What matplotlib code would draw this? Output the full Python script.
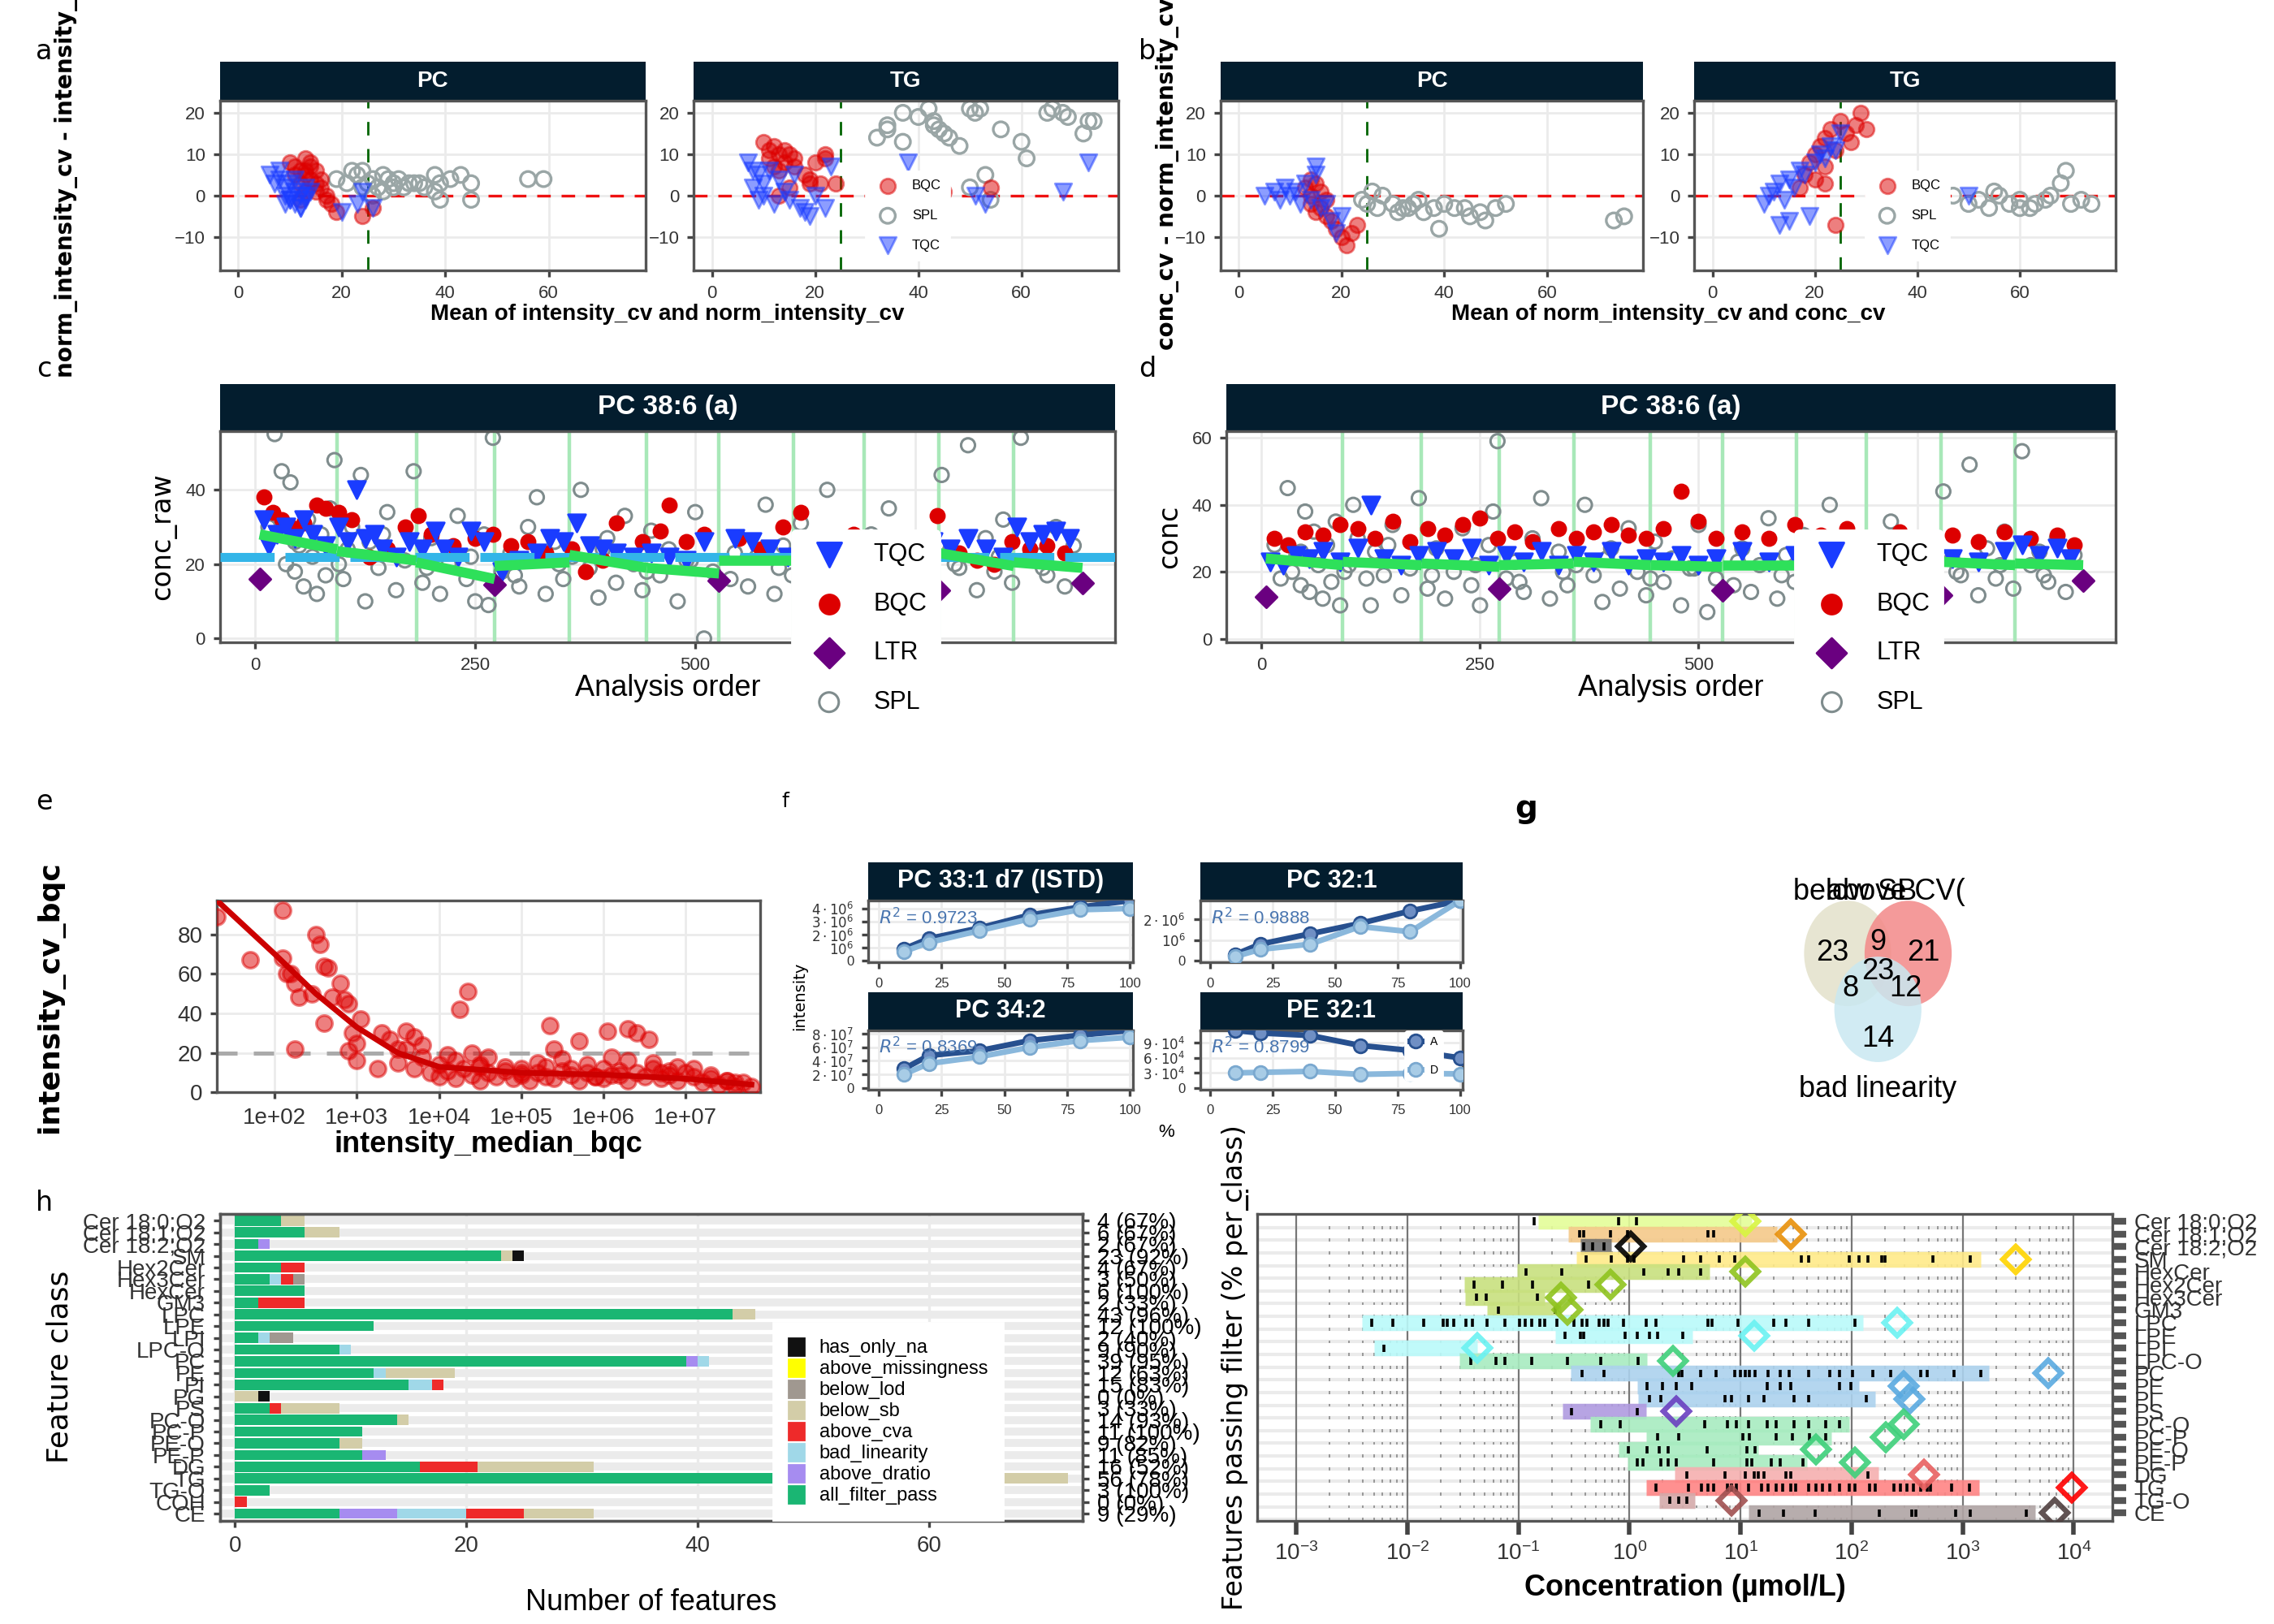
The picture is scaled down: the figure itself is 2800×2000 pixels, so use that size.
import numpy as np
import matplotlib
matplotlib.use("Agg")
import matplotlib.pyplot as plt
from matplotlib.patches import Ellipse

plt.rcParams['font.family'] = ['Liberation Sans', 'DejaVu Sans']

NAVY = '#031d2e'
RED = '#dd0000'
BLUE = '#1a3cff'
W, H = 1550.0, 1100.0

# ---------------- data: panel a / b (Bland-Altman style) ----------------
a_pc_bqc = [(10, 8), (11, 7), (12, 6), (13, 9), (13, 5), (14, 8), (14, 4), (15, 3), (15, 6), (16, 2), (12, 3),
            (11, 5), (13, 1), (16, 4), (17, 0), (18, -2), (19, -4), (24, -5), (26, -3), (14, 7), (15, 1), (12, -1),
            (17, -1), (13, 6)]
a_pc_spl = [(19, 4), (21, 3), (22, 6), (23, 5), (24, 6), (25, 3), (26, 4), (27, 2), (28, 5), (29, 4), (30, 3),
            (31, 4), (32, 2), (33, 3), (35, 3), (36, 2), (38, 5), (39, 3), (39, -1), (41, 4), (43, 5), (45, 3),
            (45, -1), (56, 4), (59, 4), (28, 1), (30, 2), (34, 3), (38, 1), (26, 0), (24, 2)]
a_pc_tqc = [(6, 5), (7, 3), (8, 4), (9, 2), (9, 0), (10, -1), (10, 3), (11, 1), (11, -2), (12, 0), (12, -3),
            (13, 2), (13, -1), (14, 1), (8, 6), (9, -2), (10, -1), (11, 4), (12, -3), (13, 0), (20, -4), (23, -2),
            (24, 1), (26, -3)]
a_tg_bqc = [(10, 13), (11, 11), (11, 9), (12, 12), (12, 7), (13, 10), (13, 6), (14, 8), (14, 11), (15, 10),
            (16, 7), (16, 9), (18, 5), (19, 4), (19, 3), (20, 8), (21, 3), (22, 9), (22, 10), (24, 3), (13, 0),
            (15, 2), (40, 1), (45, 1), (54, 2)]
a_tg_spl = [(32, 14), (34, 16), (34, 17), (37, 13), (37, 20), (40, 19), (42, 21), (43, 17), (44, 16), (45, 15),
            (46, 14), (48, 12), (50, 21), (51, 20), (52, 21), (53, 5), (54, -1), (56, 16), (60, 13), (61, 9),
            (65, 20), (66, 21), (68, 20), (69, 19), (72, 15), (73, 18), (74, 18), (43, 18), (50, 2)]
a_tg_tqc = [(7, 8), (8, 6), (8, 2), (9, 5), (9, -1), (10, 3), (10, 0), (11, 6), (12, -2), (13, 4), (14, 1),
            (15, -1), (16, 5), (17, -3), (18, -4), (19, -5), (20, 0), (22, -3), (23, 7), (38, 8), (51, 0), (53, -2),
            (68, 1), (73, 8)]
b_pc_bqc = [(13, 2), (14, 0), (14, -2), (15, 3), (15, -4), (16, 1), (16, -3), (17, -5), (18, -6), (19, -8),
            (20, -10), (21, -12), (22, -9), (23, -7), (14, 4), (17, -1)]
b_pc_tqc = [(5, 0), (7, 1), (8, -1), (9, 2), (10, 0), (11, 1), (12, -2), (13, 3), (14, -1), (15, 7), (15, 5),
            (16, -3), (17, -2), (18, -6), (19, -9), (20, -5)]
b_pc_spl = [(24, -1), (25, -2), (27, -3), (28, 0), (30, -2), (31, -4), (32, -3), (34, -2), (35, -1), (36, -4),
            (38, -3), (39, -8), (40, -2), (42, -3), (44, -3), (45, -5), (47, -4), (48, -6), (50, -3), (52, -2),
            (73, -6), (75, -5), (26, 1), (33, -3)]
b_tg_bqc = [(17, 2), (18, 5), (19, 8), (20, 10), (20, 4), (21, 12), (22, 14), (22, 7), (23, 16), (24, 11),
            (25, 18), (26, 15), (28, 17), (29, 20), (30, 16), (24, -7), (27, 13), (22, 3)]
b_tg_tqc = [(10, -2), (11, 0), (12, 1), (13, 3), (14, -1), (15, 4), (16, 2), (17, 6), (18, 5), (19, -5),
            (20, 8), (21, 10), (22, 9), (23, 12), (24, 11), (25, 15), (13, -7), (15, -6), (50, 0)]
b_tg_spl = [(44, 2), (47, 0), (50, -2), (52, -1), (54, -3), (56, 0), (58, -2), (60, -1), (62, -3), (63, -2),
            (65, -1), (66, 0), (68, 3), (70, -2), (72, -1), (74, -2), (55, 1), (60, -3), (69, 6)]

# ---------------- data: panel c / d (run order) ----------------
batch_bounds = [93, 183, 272, 357, 445, 527, 612, 692, 777, 862]
c_spl = [(15, 30), (22, 55), (30, 45), (35, 20), (40, 42), (45, 18), (50, 25), (55, 14), (60, 32), (65, 22),
         (70, 12), (75, 28), (80, 17), (85, 35), (90, 48), (100, 16), (105, 24), (110, 30), (120, 44), (125, 10),
         (130, 26), (140, 19), (150, 34), (160, 13), (170, 21), (180, 45), (190, 15), (200, 27), (210, 12),
         (220, 20), (230, 33), (240, 16), (250, 10), (260, 28), (265, 9), (270, 54), (280, 18), (290, 23),
         (300, 14), (310, 30), (320, 38), (330, 12), (340, 26), (350, 16), (360, 22), (370, 40), (380, 19),
         (390, 11), (400, 27), (410, 15), (420, 33), (430, 20), (440, 13), (450, 29), (460, 17), (470, 24),
         (480, 10), (490, 21), (500, 34), (510, 0), (520, 18), (540, 16), (550, 27), (560, 14), (570, 22),
         (580, 36), (590, 12), (600, 25), (610, 17), (620, 31), (640, 20), (650, 40), (660, 14), (670, 23),
         (680, 18), (700, 28), (710, 12), (720, 35), (740, 21), (760, 16), (780, 44), (790, 24), (800, 19),
         (810, 52), (820, 13), (830, 27), (840, 18), (850, 32), (860, 15), (870, 54), (880, 22), (890, 26),
         (900, 17), (910, 30), (920, 14), (930, 25), (45, 26), (95, 20), (145, 28), (195, 19), (245, 22),
         (295, 17), (345, 20), (395, 24), (445, 18), (495, 21), (545, 23), (595, 19), (645, 22), (695, 18),
         (745, 24), (795, 20), (845, 22), (895, 19)]
c_tqc = [(10, 32), (15, 25), (25, 28), (35, 30), (45, 27), (55, 32), (65, 28), (80, 25), (95, 30), (105, 26),
         (115, 40), (125, 27), (135, 28), (145, 24), (160, 22), (175, 26), (190, 24), (205, 29), (215, 24),
         (230, 22), (245, 29), (260, 26), (280, 18), (300, 21), (320, 23), (335, 27), (350, 26), (365, 31),
         (380, 25), (395, 24), (410, 23), (430, 22), (450, 23), (470, 22), (490, 21), (510, 26), (545, 27),
         (565, 26), (585, 24), (605, 22), (625, 26), (650, 24), (670, 23), (700, 22), (730, 23), (750, 22),
         (770, 26), (790, 24), (810, 27), (830, 24), (850, 22), (865, 30), (880, 26), (895, 28), (910, 29),
         (925, 27)]
c_bqc = [(10, 38), (20, 34), (30, 32), (40, 30), (55, 31), (70, 36), (80, 35), (95, 34), (110, 32), (130, 22),
         (150, 24), (170, 30), (185, 33), (200, 28), (225, 25), (250, 27), (270, 28), (290, 25), (310, 26),
         (330, 23), (360, 24), (375, 18), (395, 21), (410, 31), (440, 26), (460, 29), (470, 36), (490, 26),
         (510, 28), (550, 27), (575, 24), (600, 30), (620, 34), (650, 26), (680, 28), (700, 25), (730, 22),
         (760, 24), (775, 33), (800, 23), (820, 21), (840, 20), (860, 26), (880, 24), (900, 25), (920, 23)]
c_ltr = [(5, 16), (272, 14.5), (527, 15.5), (777, 13), (940, 15)]
c_trend = [(5, 93, 28, 24), (93, 183, 23.5, 21), (183, 272, 20.5, 16), (272, 357, 19.5, 20.5),
           (357, 445, 22.5, 19), (445, 527, 19, 17.5), (527, 612, 21, 21), (612, 692, 21, 20),
           (692, 777, 20, 19), (777, 862, 23, 19.5), (862, 940, 20.5, 19)]
c_target = 22

d_spl = [(15, 28), (22, 18), (30, 45), (35, 20), (40, 25), (45, 16), (50, 38), (55, 14), (60, 32), (65, 22),
         (70, 12), (75, 28), (80, 17), (85, 35), (90, 10), (100, 22), (105, 40), (110, 30), (120, 18), (125, 10),
         (130, 26), (140, 19), (150, 34), (160, 13), (170, 21), (180, 42), (190, 15), (200, 27), (210, 12),
         (220, 20), (230, 33), (240, 16), (250, 10), (260, 28), (265, 38), (270, 59), (280, 18), (290, 23),
         (300, 14), (310, 30), (320, 42), (330, 12), (340, 26), (350, 16), (360, 22), (370, 40), (380, 19),
         (390, 11), (400, 27), (410, 15), (420, 33), (430, 20), (440, 13), (450, 29), (460, 17), (470, 24),
         (480, 10), (490, 21), (500, 34), (510, 8), (520, 18), (540, 16), (550, 27), (560, 14), (570, 22),
         (580, 36), (590, 12), (600, 25), (610, 17), (620, 31), (640, 20), (650, 40), (660, 14), (670, 23),
         (680, 18), (700, 28), (710, 12), (720, 35), (740, 21), (760, 16), (780, 44), (790, 24), (800, 19),
         (810, 52), (820, 13), (830, 27), (840, 18), (850, 32), (860, 15), (870, 56), (880, 22), (890, 26),
         (900, 17), (910, 30), (920, 14), (930, 25), (45, 26), (95, 20), (145, 28), (195, 19), (245, 22),
         (295, 17), (345, 20), (395, 24), (445, 18), (495, 21), (545, 23), (595, 19), (645, 22), (695, 18),
         (745, 24), (795, 20), (845, 22), (895, 19)]
d_tqc = [(10, 23), (25, 22), (40, 25), (55, 24), (70, 26), (90, 23), (110, 27), (125, 40), (140, 24), (160, 22),
         (180, 25), (200, 26), (220, 24), (240, 27), (260, 22), (280, 25), (300, 23), (320, 26), (340, 22),
         (360, 25), (380, 23), (400, 26), (420, 22), (440, 24), (460, 23), (480, 25), (500, 22), (520, 24),
         (550, 26), (580, 23), (610, 25), (640, 22), (670, 24), (700, 23), (730, 25), (760, 22), (790, 24),
         (820, 23), (850, 26), (870, 28), (890, 25), (910, 27), (925, 24)]
d_bqc = [(15, 30), (30, 28), (50, 32), (70, 31), (90, 34), (110, 33), (130, 30), (150, 35), (170, 29), (190, 33),
         (210, 31), (230, 34), (250, 36), (270, 30), (290, 32), (310, 29), (340, 33), (360, 30), (380, 32),
         (400, 34), (420, 31), (440, 30), (460, 33), (480, 44), (500, 35), (520, 30), (550, 32), (580, 30),
         (610, 34), (640, 31), (670, 33), (700, 29), (730, 32), (760, 30), (790, 31), (820, 29), (850, 32),
         (880, 30), (910, 31), (930, 28)]
d_ltr = [(5, 12.5), (272, 15), (527, 14.5), (777, 13), (940, 17.5)]
d_trend = [(5, 93, 24, 22), (93, 183, 23, 22), (183, 272, 22.5, 21.5), (272, 357, 22, 22.5),
           (357, 445, 23, 22), (445, 527, 22, 21.5), (527, 612, 22, 22), (612, 692, 22.5, 22),
           (692, 777, 22, 22), (777, 862, 23, 22), (862, 940, 22.5, 22)]

# ---------------- data: panel e ----------------
e_log_x = [3.5, 3.6, 3.7, 3.8, 3.9, 4.0, 4.0, 4.1, 4.2, 4.2, 4.3, 4.4, 4.5, 4.5, 4.6, 4.7, 4.8, 4.9, 5.0, 5.0,
           5.1, 5.2, 5.3, 5.3, 5.4, 5.5, 5.6, 5.7, 5.8, 5.9, 6.0, 6.0, 6.1, 6.2, 6.3, 6.4, 6.5, 6.6, 6.7, 6.8,
           6.9, 7.0, 7.1, 7.2, 7.3, 7.4, 7.5, 7.6, 7.7, 7.8, 4.1, 4.6, 5.2, 5.8, 6.3, 6.9, 7.3, 3.8, 4.4, 5.5,
           6.6, 7.1, 1.3, 1.7, 2.1, 2.1, 2.15, 2.25, 2.3, 2.45, 2.5, 2.55, 2.6, 2.65, 2.7, 2.8, 2.85, 2.9, 2.95,
           3.0, 3.05, 2.25, 2.6, 2.9, 3.0, 3.25, 3.3, 3.4, 3.5, 3.6, 4.25, 4.35, 5.35, 5.4, 5.7, 6.05, 6.3, 6.4,
           6.55, 6.1, 2.2, 3.7, 4.5, 5.0, 5.6, 6.2, 6.8, 7.5, 4.8, 5.9, 6.7, 7.6]
e_cv = [15, 22, 12, 18, 10, 14, 8, 11, 16, 7, 12, 9, 13, 6, 10, 8, 11, 7, 12, 9, 6, 10, 8, 13, 7, 11, 9, 6, 10, 8,
        12, 7, 9, 11, 6, 10, 8, 12, 7, 9, 6, 10, 8, 5, 7, 4, 6, 3, 5, 3, 19, 18, 15, 14, 16, 13, 9, 24, 20, 17,
        15, 12, 89, 67, 92, 68, 60, 55, 48, 50, 80, 75, 64, 63, 48, 55, 47, 45, 30, 25, 37, 22, 35, 21, 16, 12,
        30, 27, 22, 31, 42, 51, 34, 22, 26, 31, 32, 30, 27, 18, 60, 28, 14, 10, 12, 9, 11, 6, 13, 8, 10, 5]
e_fit_log_x = [1.3, 2.0, 2.5, 3.0, 3.5, 4.0, 5.0, 6.0, 7.0, 7.8]
e_fit_cv = [97, 70, 50, 33, 20, 13, 10, 9, 7, 4]

# ---------------- data: panel f (response curves) ----------------
f_pct = [10, 20, 40, 60, 80, 100]
f_titles = ['PC 33:1 d7 (ISTD)', 'PC 32:1', 'PC 34:2', 'PE 32:1']
f_A = [[0.9e6, 1.7e6, 2.5e6, 3.5e6, 4.1e6, 4.6e6],
       [0.3e6, 0.8e6, 1.3e6, 1.8e6, 2.4e6, 2.9e6],
       [2.8e7, 4.8e7, 5.5e7, 7.0e7, 7.8e7, 8.5e7],
       [11.5e4, 11e4, 10.5e4, 8.5e4, 7.5e4, 6e4]]
f_D = [[0.7e6, 1.4e6, 2.3e6, 3.2e6, 3.9e6, 4.0e6],
       [0.2e6, 0.55e6, 0.8e6, 1.65e6, 1.4e6, 2.9e6],
       [2.0e7, 3.6e7, 4.6e7, 6.0e7, 7.0e7, 7.5e7],
       [3.0e4, 3.1e4, 3.3e4, 2.7e4, 2.9e4, 2.8e4]]
f_r2 = ['0.9723', '0.9888', '0.8369', '0.8799']
f_yticks = [[0, 1e6, 2e6, 3e6, 4e6], [0, 1e6, 2e6], [0, 2e7, 4e7, 6e7, 8e7], [0, 3e4, 6e4, 9e4]]
f_yticklabels = [['0', r'$10^6$', r'$2\cdot10^6$', r'$3\cdot10^6$', r'$4\cdot10^6$'],
                 ['0', r'$10^6$', r'$2\cdot10^6$'],
                 ['0', r'$2\cdot10^7$', r'$4\cdot10^7$', r'$6\cdot10^7$', r'$8\cdot10^7$'],
                 ['0', r'$3\cdot10^4$', r'$6\cdot10^4$', r'$9\cdot10^4$']]

# ---------------- data: panel g (venn) ----------------
venn_sets = ['below SB', 'above CV', 'bad linearity']
venn_counts = {'A': 23, 'B': 21, 'C': 14, 'AB': 9, 'AC': 8, 'BC': 12, 'ABC': 23}

# ---------------- data: panel h ----------------
h_classes = ['Cer 18:0;O2', 'Cer 18:1;O2', 'Cer 18:2;O2', 'SM', 'Hex2Cer', 'Hex3Cer', 'HexCer', 'GM3', 'LPC',
             'LPE', 'LPI', 'LPC-O', 'PC', 'PE', 'PI', 'PG', 'PS', 'PC-O', 'PC-P', 'PE-O', 'PE-P', 'DG', 'TG',
             'TG-O', 'COH', 'CE']
h_filters = ['all_filter_pass', 'above_dratio', 'bad_linearity', 'above_cva', 'below_sb', 'below_lod',
             'above_missingness', 'has_only_na']
h_colors = {'has_only_na': '#111111', 'above_missingness': '#ffff00', 'below_lod': '#a09890',
            'below_sb': '#d3cda8', 'above_cva': '#ee2a2a', 'bad_linearity': '#a0d8e8',
            'above_dratio': '#a68cf0', 'all_filter_pass': '#1ab673'}
h_counts = {
    'all_filter_pass': [4, 6, 2, 23, 4, 3, 6, 2, 43, 12, 2, 9, 39, 12, 15, 0, 3, 14, 11, 9, 11, 16, 56, 3, 0, 9],
    'above_dratio':    [0, 0, 1, 0, 0, 0, 0, 0, 0, 0, 0, 0, 1, 0, 0, 0, 0, 0, 0, 0, 2, 0, 0, 0, 0, 5],
    'bad_linearity':   [0, 0, 0, 0, 0, 1, 0, 0, 0, 0, 1, 1, 1, 1, 2, 0, 0, 0, 0, 0, 0, 0, 0, 0, 0, 6],
    'above_cva':       [0, 0, 0, 0, 2, 1, 0, 4, 0, 0, 0, 0, 0, 0, 1, 0, 1, 0, 0, 0, 0, 5, 0, 0, 1, 5],
    'below_sb':        [2, 3, 0, 1, 0, 0, 0, 0, 2, 0, 0, 0, 0, 6, 0, 2, 5, 1, 0, 2, 0, 10, 16, 0, 0, 6],
    'below_lod':       [0, 0, 0, 0, 0, 1, 0, 0, 0, 0, 2, 0, 0, 0, 0, 0, 0, 0, 0, 0, 0, 0, 0, 0, 0, 0],
    'above_missingness': [0] * 26,
    'has_only_na':     [0, 0, 0, 1, 0, 0, 0, 0, 0, 0, 0, 0, 0, 0, 0, 1, 0, 0, 0, 0, 0, 0, 0, 0, 0, 0],
}
h_right = ['4 (67%)', '6 (67%)', '2 (67%)', '23 (92%)', '4 (67%)', '3 (50%)', '6 (100%)', '2 (33%)',
           '43 (96%)', '12 (100%)', '2 (40%)', '9 (90%)', '39 (95%)', '12 (63%)', '15 (83%)', '0 (0%)',
           '3 (33%)', '14 (93%)', '11 (100%)', '9 (82%)', '11 (85%)', '16 (52%)', '56 (78%)', '3 (100%)',
           '0 (0%)', '9 (29%)']

# ---------------- data: panel i (log10 concentrations) ----------------
i_classes = ['Cer 18:0;O2', 'Cer 18:1;O2', 'Cer 18:2;O2', 'SM', 'HexCer', 'Hex2Cer', 'Hex3Cer', 'GM3', 'LPC',
             'LPE', 'LPI', 'LPC-O', 'PC', 'PE', 'PI', 'PS', 'PC-O', 'PC-P', 'PE-O', 'PE-P', 'DG', 'TG', 'TG-O', 'CE']
i_min = [-0.82, -0.55, -0.44, -0.48, -1.01, -1.49, -1.48, -1.28, -2.41, -0.67, -2.30, -1.53, -0.53, 0.07, 0.08,
         -0.60, -0.35, 0.15, -0.10, -0.02, 0.41, 0.15, 0.27, 1.07]
i_max = [1.10, 1.33, -0.16, 3.16, 0.72, -0.26, -0.76, -0.62, 2.10, 0.57, -1.37, 0.16, 3.24, 2.07, 2.21, 0.15,
         1.98, 1.82, 1.16, 1.60, 2.24, 3.15, 0.59, 3.65]
i_diamond = [1.04, 1.45, 0.01, 3.48, 1.04, -0.17, -0.62, -0.56, 2.41, 1.12, -1.37, 0.39, 3.77, 2.47, 2.52, 0.42,
             2.47, 2.31, 1.68, 2.03, 2.65, 3.98, 0.92, 3.83]
i_marker_col = ['#d8f540', '#e8900a', '#000000', '#ffd400', '#8fc31f', '#8fc31f', '#8fc31f', '#8fc31f',
                '#6af2f2', '#6af2f2', '#6af2f2', '#3ed07a', '#5aaae0', '#5aaae0', '#5aaae0', '#6a3fc0',
                '#3ed07a', '#3ed07a', '#3ed07a', '#3ed07a', '#e86060', '#ff0000', '#a05050', '#504040']
i_bar_col = ['#e4fd98', '#f4c98a', '#707070', '#ffea88', '#c8e07e', '#c8e07e', '#c8e07e', '#c8e07e',
             '#bafafa', '#bafafa', '#bafafa', '#a8ecc0', '#acd2ee', '#acd2ee', '#acd2ee', '#b09ae0',
             '#a8ecc0', '#a8ecc0', '#a8ecc0', '#a8ecc0', '#f5b0b0', '#ff8484', '#d4aaaa', '#b0a4a4']
i_ticks = [
    [-0.86, -0.10, 0.06],
    [-0.45, -0.41, -0.17, -0.02, 0.71, 0.76],
    [-0.41, -0.33, -0.23],
    [-0.39, -0.16, -0.02, 0.04, 0.49, 0.64, 0.81, 0.95, 1.55, 1.61, 1.98, 2.07, 2.15, 2.27, 2.30, 2.73, 3.07],
    [-0.93, -0.61, 0.13, 0.35, 0.44, 0.64],
    [-1.40, -1.14, -0.87, -0.37],
    [-1.38, -1.29, -0.83],
    [-1.18, -0.67],
    [-2.32, -2.13, -1.85, -1.68, -1.64, -1.58, -1.47, -1.41, -1.28, -1.12, -0.99, -0.94, -0.88, -0.81, -0.76,
     -0.65, -0.50, -0.43, -0.38, -0.27, -0.23, -0.19, -0.05, 0.15, 0.24, 0.71, 0.74, 0.98, 1.30, 1.41, 1.61, 2.03],
    [-0.58, -0.44, -0.41, -0.04, 0.07, 0.18, 0.25, 0.48],
    [-2.21],
    [-1.43, -1.20, -1.12, -0.88, -0.56, -0.26, 0.08],
    [-0.43, -0.23, 0.44, 0.47, 0.64, 0.78, 0.95, 1.0, 1.04, 1.08, 1.13, 1.25, 1.36, 1.44, 1.61, 1.80, 1.89, 2.01,
     2.19, 2.35, 2.62, 2.68, 2.92, 3.16],
    [0.16, 0.30, 0.42, 0.56, 1.24, 1.36, 1.45, 1.89, 1.99],
    [0.18, 0.28, 0.86, 0.92, 1.07, 1.21, 1.48, 1.61, 2.13],
    [-0.52, 0.07],
    [-0.26, -0.08, 0.68, 0.88, 0.96, 1.07, 1.24, 1.32, 1.48, 1.61, 1.77, 1.89],
    [0.25, 0.44, 1.02, 1.08, 1.32, 1.47, 1.62, 1.77],
    [-0.01, 0.16, 0.27, 0.35, 0.70, 1.06, 1.13],
    [0.07, 0.12, 0.28, 0.35, 0.42, 0.76, 1.06, 1.10, 1.28, 1.36, 1.56],
    [0.52, 0.86, 1.04, 1.12, 1.16, 1.21, 1.41, 1.45, 2.15],
    [0.24, 0.53, 0.65, 0.71, 0.76, 0.88, 0.92, 0.96, 1.07, 1.19, 1.25, 1.32, 1.38, 1.45, 1.50, 1.61, 1.68, 1.74,
     1.80, 1.89, 1.98, 2.03, 2.16, 2.21, 2.38, 2.44, 2.50, 2.56, 2.62, 2.68, 2.71, 2.90, 3.06],
    [0.36, 0.44, 0.52],
    [1.17, 1.39, 1.67, 2.25, 2.54, 2.58, 2.94, 3.07, 3.57],
]


# ---------------- helpers ----------------
def rect(x0, y0, x1, y1):
    return [x0 / W, 1 - y1 / H, (x1 - x0) / W, (y1 - y0) / H]


def style(ax, fs=8):
    ax.set_facecolor('white')
    ax.grid(True, color='#ebebeb', lw=1.0)
    ax.set_axisbelow(True)
    for s in ax.spines.values():
        s.set_color('#555555')
        s.set_linewidth(1.2)
    ax.tick_params(colors='#333333', labelsize=fs, length=3, width=1.2, color='#444444')


def facet(x0, y0, x1, y1, title, strip_h=26, fs=11):
    sax = fig.add_axes(rect(x0, y0 - strip_h, x1, y0))
    sax.set_facecolor(NAVY)
    sax.set_xticks([])
    sax.set_yticks([])
    for s in sax.spines.values():
        s.set_visible(False)
    sax.text(0.5, 0.5, title, color='white', fontsize=fs, fontweight='bold', ha='center', va='center',
             transform=sax.transAxes)
    ax = fig.add_axes(rect(x0, y0, x1, y1))
    style(ax)
    return ax


def xy(pairs):
    return [p[0] for p in pairs], [p[1] for p in pairs]


fig = plt.figure(figsize=(14, 10), dpi=200)
fig.patch.set_facecolor('white')

# ---------------- panels a and b ----------------
ab = [
    ((150, 440), 'PC', a_pc_bqc, a_pc_spl, a_pc_tqc, False),
    ((473, 762), 'TG', a_tg_bqc, a_tg_spl, a_tg_tqc, True),
    ((832, 1120), 'PC', b_pc_bqc, b_pc_spl, b_pc_tqc, False),
    ((1155, 1442), 'TG', b_tg_bqc, b_tg_spl, b_tg_tqc, True),
]
for (x0, x1), title, bqc, spl, tqc, leg in ab:
    ax = facet(x0, 68, x1, 183, title, strip_h=26, fs=10)
    ax.axhline(0, color='#ee1111', ls=(0, (5, 4)), lw=1.2, zorder=1)
    ax.axvline(25, color='#006400', ls=(0, (6, 6)), lw=1.0, zorder=1)
    hb = ax.scatter(*xy(bqc), s=45, c=RED, alpha=0.5, edgecolors=RED, lw=1, label='BQC', zorder=3)
    hs = ax.scatter(*xy(spl), s=45, facecolors='none', edgecolors='#9aa6a6', lw=1.2, label='SPL', zorder=2)
    ht = ax.scatter(*xy(tqc), s=55, marker='v', c=BLUE, alpha=0.5, edgecolors=BLUE, lw=1, label='TQC', zorder=3)
    ax.set_xlim(-3.5, 78.7)
    ax.set_ylim(-18, 23)
    ax.set_xticks([0, 20, 40, 60])
    ax.set_yticks([-10, 0, 10, 20])
    if leg:
        lg = ax.legend(handles=[hb, hs, ht], loc='upper left', bbox_to_anchor=(0.39, 0.62), fontsize=6,
                       frameon=True, framealpha=1, edgecolor='white', labelspacing=1.3, handletextpad=0.8,
                       borderpad=0.6)
        lg.set_zorder(10)

fig.text(455 / W, 1 - 213 / H, 'Mean of intensity_cv and norm_intensity_cv', ha='center', va='center',
         fontsize=10, fontweight='bold')
fig.text(1137 / W, 1 - 213 / H, 'Mean of norm_intensity_cv and conc_cv', ha='center', va='center',
         fontsize=10, fontweight='bold')
fig.text(45 / W, 1 - 118 / H, 'norm_intensity_cv - intensity_cv', rotation=90, ha='center', va='center',
         fontsize=10, fontweight='bold', family='DejaVu Sans')
fig.text(796 / W, 1 - 118 / H, 'conc_cv - norm_intensity_cv', rotation=90, ha='center', va='center',
         fontsize=10, fontweight='bold', family='DejaVu Sans')

# ---------------- panels c and d ----------------
cd = [
    ((150, 760), c_spl, c_tqc, c_bqc, c_ltr, c_trend, 'conc_raw', (-1, 55.8), [0, 20, 40], True),
    ((836, 1442), d_spl, d_tqc, d_bqc, d_ltr, d_trend, 'conc', (-1, 62), [0, 20, 40, 60], False),
]
for (x0, x1), spl, tqc, bqc, ltr, trend, ylab, ylim, yt, target in cd:
    ax = facet(x0, 292, x1, 435, 'PC 38:6 (a)', strip_h=32, fs=12)
    for b in batch_bounds:
        ax.axvline(b, color='#a8e8b8', lw=1.6, zorder=1)
    if target:
        ax.axhline(c_target, color='#33b5e8', lw=4, ls=(0, (6, 1.2)), zorder=4)
    hs = ax.scatter(*xy(spl), s=38, facecolors='none', edgecolors='#7f8c8d', lw=1.1, zorder=2, label='SPL')
    hb = ax.scatter(*xy(bqc), s=38, c='#dd0000', zorder=3, label='BQC')
    ht = ax.scatter(*xy(tqc), s=60, marker='v', c=BLUE, zorder=3, label='TQC')
    hl = ax.scatter(*xy(ltr), s=45, marker='D', c='#6a0080', zorder=3, label='LTR')
    for xs, xe, ys, ye in trend:
        ax.plot([xs, xe], [ys, ye], color='#2ee05a', lw=4.5, zorder=5, solid_capstyle='butt')
    ax.set_xlim(-40, 977)
    ax.set_ylim(*ylim)
    ax.set_xticks([0, 250, 500, 750])
    ax.set_yticks(yt)
    ax.set_ylabel(ylab, fontsize=12, family='DejaVu Sans')
    ax.set_xlabel('Analysis order', fontsize=13, labelpad=0)
    lg = ax.legend(handles=[ht, hb, hl, hs], loc='upper left', bbox_to_anchor=(0.625, 0.59), fontsize=11,
                   frameon=True, framealpha=1, edgecolor='white', markerscale=1.4, labelspacing=1.0,
                   borderpad=0.5)
    lg.set_zorder(10)

# ---------------- panel e ----------------
ax = fig.add_axes(rect(148, 610, 518, 740))
style(ax, fs=10)
ax.scatter(10 ** np.array(e_log_x), e_cv, s=50, c='#dd0000', alpha=0.5, edgecolors='#dd0000', lw=1.2, zorder=3)
ax.plot(10 ** np.array(e_fit_log_x), e_fit_cv, color='#cc0000', lw=2.5, zorder=4)
ax.axhline(20, color='#aaaaaa', ls=(0, (5, 4)), lw=1.8, zorder=2)
ax.set_xscale('log')
ax.set_xlim(20, 8e7)
ax.set_ylim(0, 97)
ax.set_xticks([1e2, 1e3, 1e4, 1e5, 1e6, 1e7])
ax.set_xticklabels(['1e+02', '1e+03', '1e+04', '1e+05', '1e+06', '1e+07'])
ax.minorticks_off()
ax.set_yticks([0, 20, 40, 60, 80])
ax.set_xlabel('intensity_median_bqc', fontsize=13, fontweight='bold', labelpad=1)
ax.set_ylabel('intensity_cv_bqc', fontsize=13, fontweight='bold', family='DejaVu Sans', labelpad=50)

# ---------------- panel f ----------------
f_rects = [(592, 610, 772, 652), (818, 610, 997, 652), (592, 698, 772, 738), (818, 698, 997, 738)]
for k, (x0, y0, x1, y1) in enumerate(f_rects):
    ax = facet(x0, y0, x1, y1, f_titles[k], strip_h=26, fs=11)
    ax.tick_params(labelsize=6)
    la, = ax.plot(f_pct, f_A[k], color='#27508f', lw=2.5, marker='o', ms=6, mfc='#6f8fc4', mec='#27508f',
                  label='A', zorder=3)
    ld, = ax.plot(f_pct, f_D[k], color='#8ab8dc', lw=2.5, marker='o', ms=6, mfc='#a8cce6', mec='#7aa8cf',
                  label='D', zorder=3)
    ax.set_xlim(-4, 101)
    top = max(max(f_A[k]), max(f_D[k]))
    ax.set_ylim(-top * 0.03, top)
    ax.set_xticks([0, 25, 50, 75, 100])
    ax.set_yticks(f_yticks[k])
    ax.set_yticklabels(f_yticklabels[k])
    ax.text(0.04, 0.62, r'$R^2$ = ' + f_r2[k], transform=ax.transAxes, fontsize=8, color='#4a76b0', zorder=5)
    if k == 3:
        lg = ax.legend(handles=[la, ld], loc='upper left', bbox_to_anchor=(0.76, 1.08), fontsize=5,
                       frameon=True, framealpha=1, edgecolor='white', handlelength=1.0, labelspacing=1.5)
        lg.set_zorder(10)
fig.text(795 / W, 1 - 770 / H, '%', ha='center', fontsize=8)
fig.text(545 / W, 1 - 675 / H, 'intensity', rotation=90, ha='center', va='center', fontsize=7,
         family='DejaVu Sans')

# ---------------- panel g (venn) ----------------
ax = fig.add_axes(rect(1205, 600, 1355, 745))
ax.set_xlim(-1.2, 1.2)
ax.set_ylim(-1.25, 1.05)
ax.set_aspect('equal')
ax.axis('off')
centres = [(-0.33, 0.33), (0.33, 0.33), (0.0, -0.28)]
cols = ['#e3e1ca', '#f38888', '#c9e8f1']
for (cx, cy), col in zip(centres, cols):
    ax.add_patch(Ellipse((cx, cy), 0.95, 1.15, facecolor=col, edgecolor='none', alpha=0.85))
v_pos = {'A': (-0.5, 0.34), 'B': (0.5, 0.34), 'C': (0.0, -0.6), 'AB': (0.0, 0.45), 'AC': (-0.3, -0.05),
         'BC': (0.3, -0.05), 'ABC': (0.0, 0.13)}
for key, (tx, ty) in v_pos.items():
    ax.text(tx, ty, str(venn_counts[key]), ha='center', va='center', fontsize=13)
ax.text(-0.25, 1.0, venn_sets[0], ha='center', va='center', fontsize=13, clip_on=False)
ax.text(0.2, 1.0, venn_sets[1] + '(', ha='center', va='center', fontsize=13, clip_on=False)
ax.text(0.0, -1.15, venn_sets[2], ha='center', va='center', fontsize=13, clip_on=False)

# ---------------- panel h ----------------
ax = fig.add_axes(rect(150, 822, 738, 1030))
style(ax, fs=10)
ax.grid(False)
ypos = np.arange(len(h_classes))
for y in ypos:
    ax.axhline(y, color='#ebebeb', lw=3.5, zorder=0)
for xg in [0, 20, 40, 60]:
    ax.axvline(xg, color='#ebebeb', lw=1.2, zorder=0)
left = np.zeros(len(h_classes))
for f in h_filters:
    vals = np.array(h_counts[f], dtype=float)
    ax.barh(ypos, vals, left=left, height=0.88, color=h_colors[f], zorder=2, label=f)
    left += vals
ax.set_ylim(len(h_classes) - 0.4, -0.6)
ax.set_xlim(-1.3, 73.3)
ax.set_xticks([0, 20, 40, 60])
ax.set_yticks(ypos)
ax.set_yticklabels(h_classes, fontsize=10)
ax.set_xlabel('Number of features', fontsize=13, labelpad=14)
ax.set_ylabel('Feature class', fontsize=13, family='DejaVu Sans')
ax2 = ax.twinx()
ax2.set_ylim(ax.get_ylim())
ax2.set_yticks(ypos)
ax2.set_yticklabels(h_right, fontsize=10)
ax2.tick_params(length=3, width=1.2, color='#444444')
for s in ax2.spines.values():
    s.set_color('#555555')
    s.set_linewidth(1.2)
order = ['has_only_na', 'above_missingness', 'below_lod', 'below_sb', 'above_cva', 'bad_linearity',
         'above_dratio', 'all_filter_pass']
handles = [plt.Rectangle((0, 0), 1, 1, color=h_colors[n]) for n in order]
lg = ax2.legend(handles, order, loc='lower left', bbox_to_anchor=(0.63, -0.03), fontsize=8.5, frameon=True,
                framealpha=1, edgecolor='white', handlelength=0.8, handleheight=1.0, labelspacing=0.1,
                borderpad=0.8, fancybox=False)
lg.set_zorder(20)

# ---------------- panel i ----------------
ax = fig.add_axes(rect(857, 822, 1440, 1030))
style(ax, fs=10)
ax.grid(False)
ny = len(i_classes)
rows = np.arange(ny)
for y in rows:
    ax.axhline(y + 0.5, color='#ebebeb', lw=1.5, zorder=0)
for dec in range(-3, 5):
    ax.axvline(10.0 ** dec, color='#777777', lw=0.8, zorder=0)
minor = [m * 10.0 ** dec for dec in range(-3, 4) for m in range(2, 10)]
for y in rows:
    ax.vlines(minor, y + 0.38, y + 0.62, color='#8a8a8a', lw=0.6, zorder=1)
for y in rows:
    ax.plot([10 ** i_min[y], 10 ** i_max[y]], [y, y], color=i_bar_col[y], lw=7, solid_capstyle='butt',
            zorder=2, alpha=0.9)
    ax.vlines(10 ** np.array(i_ticks[y]), y - 0.3, y + 0.3, color='black', lw=1.3, zorder=3)
    ax.plot(10 ** i_diamond[y], y, marker='D', ms=8, mfc='none', mec=i_marker_col[y], mew=2.3, zorder=4,
            alpha=0.9)
ax.set_xscale('log')
ax.set_xlim(10 ** -3.35, 10 ** 4.35)
ax.set_ylim(ny - 0.4, -0.6)
ax.set_xticks([10.0 ** d for d in range(-3, 5)])
ax.xaxis.set_minor_locator(matplotlib.ticker.NullLocator())
ax.set_yticks(rows)
ax.set_yticklabels(i_classes, fontsize=10)
ax.yaxis.tick_right()
ax.tick_params(axis='y', length=6, width=3, color='#555555')
ax.tick_params(axis='x', length=6, width=2)
ax.yaxis.set_label_position('left')
ax.set_ylabel('Features passing filter (% per class)', fontsize=12, family='DejaVu Sans')
ax.set_xlabel('Concentration (µmol/L)', fontsize=13, fontweight='bold', labelpad=4)

# ---------------- panel letters ----------------
for lab, x, y, fs, fw in [('a', 30, 35, 12, 'normal'), ('b', 782, 35, 12, 'normal'), ('c', 30, 250, 12, 'normal'),
                          ('d', 782, 250, 12, 'normal'), ('e', 30, 543, 12, 'normal'),
                          ('f', 535, 543, 9, 'normal'), ('g', 1040, 548, 14, 'bold'),
                          ('h', 30, 815, 12, 'normal'), ('i', 850, 815, 12, 'normal')]:
    fig.text(x / W, 1 - y / H, lab, fontsize=fs, fontweight=fw, ha='center', va='center',
             family='DejaVu Sans')

fig.savefig('out.png', dpi=200, facecolor='white')
